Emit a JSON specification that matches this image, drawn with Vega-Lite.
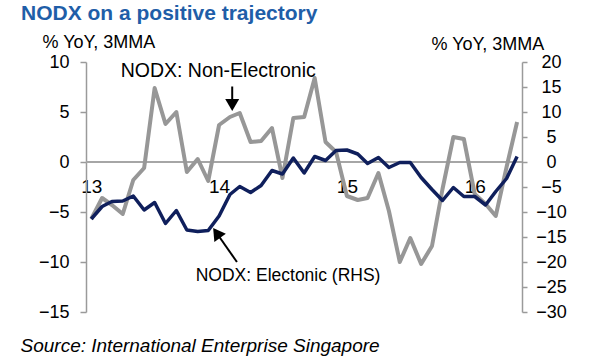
{
  "$schema": "https://vega.github.io/schema/vega-lite/v6.json",
  "width": 436,
  "height": 250,
  "autosize": {"type": "none"},
  "padding": {"left": 86, "top": 62, "right": 78, "bottom": 48},
  "background": "white",
  "title": {
    "text": "NODX on a positive trajectory",
    "anchor": "start",
    "frame": "group",
    "font": "Liberation Sans",
    "fontSize": 21,
    "fontWeight": "bold",
    "color": "#1f5ea8",
    "dx": -65,
    "dy": -2,
    "offset": 8
  },
  "config": {
    "font": "Liberation Sans",
    "view": {"stroke": null},
    "axis": {"labelColor": "#000000", "titleColor": "#000000", "grid": false, "labelFont": "Liberation Sans", "titleFont": "Liberation Sans"}
  },
  "data": {
    "values": [
      {"month": "2013-01-01T00:00:00", "nonElectronic": -5.7, "electronic": -11.4},
      {"month": "2013-02-01T00:00:00", "nonElectronic": -3.6, "electronic": -8.9},
      {"month": "2013-03-01T00:00:00", "nonElectronic": -4.3, "electronic": -7.9},
      {"month": "2013-04-01T00:00:00", "nonElectronic": -5.2, "electronic": -7.8},
      {"month": "2013-05-01T00:00:00", "nonElectronic": -1.8, "electronic": -6.8},
      {"month": "2013-06-01T00:00:00", "nonElectronic": -0.6, "electronic": -9.6},
      {"month": "2013-07-01T00:00:00", "nonElectronic": 7.4, "electronic": -8.1},
      {"month": "2013-08-01T00:00:00", "nonElectronic": 3.8, "electronic": -12.3},
      {"month": "2013-09-01T00:00:00", "nonElectronic": 5.0, "electronic": -9.7},
      {"month": "2013-10-01T00:00:00", "nonElectronic": -1.0, "electronic": -13.6},
      {"month": "2013-11-01T00:00:00", "nonElectronic": 0.3, "electronic": -13.9},
      {"month": "2013-12-01T00:00:00", "nonElectronic": -1.9, "electronic": -13.7},
      {"month": "2014-01-01T00:00:00", "nonElectronic": 3.7, "electronic": -10.8},
      {"month": "2014-02-01T00:00:00", "nonElectronic": 4.5, "electronic": -6.5},
      {"month": "2014-03-01T00:00:00", "nonElectronic": 4.9, "electronic": -4.9},
      {"month": "2014-04-01T00:00:00", "nonElectronic": 2.0, "electronic": -6.1},
      {"month": "2014-05-01T00:00:00", "nonElectronic": 2.1, "electronic": -4.7},
      {"month": "2014-06-01T00:00:00", "nonElectronic": 3.4, "electronic": -1.7},
      {"month": "2014-07-01T00:00:00", "nonElectronic": -1.6, "electronic": -2.4},
      {"month": "2014-08-01T00:00:00", "nonElectronic": 4.4, "electronic": 0.8},
      {"month": "2014-09-01T00:00:00", "nonElectronic": 4.5, "electronic": -2.2},
      {"month": "2014-10-01T00:00:00", "nonElectronic": 8.4, "electronic": 1.1},
      {"month": "2014-11-01T00:00:00", "nonElectronic": 2.0, "electronic": 0.3},
      {"month": "2014-12-01T00:00:00", "nonElectronic": 1.0, "electronic": 2.3},
      {"month": "2015-01-01T00:00:00", "nonElectronic": -3.4, "electronic": 2.4},
      {"month": "2015-02-01T00:00:00", "nonElectronic": -3.8, "electronic": 1.6},
      {"month": "2015-03-01T00:00:00", "nonElectronic": -3.6, "electronic": -0.3},
      {"month": "2015-04-01T00:00:00", "nonElectronic": -1.1, "electronic": 0.9},
      {"month": "2015-05-01T00:00:00", "nonElectronic": -4.9, "electronic": -1.1},
      {"month": "2015-06-01T00:00:00", "nonElectronic": -10.0, "electronic": -0.1},
      {"month": "2015-07-01T00:00:00", "nonElectronic": -7.6, "electronic": -0.1},
      {"month": "2015-08-01T00:00:00", "nonElectronic": -10.2, "electronic": -3.1},
      {"month": "2015-09-01T00:00:00", "nonElectronic": -8.4, "electronic": -5.5},
      {"month": "2015-10-01T00:00:00", "nonElectronic": -2.7, "electronic": -7.7},
      {"month": "2015-11-01T00:00:00", "nonElectronic": 2.5, "electronic": -5.1},
      {"month": "2015-12-01T00:00:00", "nonElectronic": 2.3, "electronic": -6.9},
      {"month": "2016-01-01T00:00:00", "nonElectronic": -3.2, "electronic": -6.9},
      {"month": "2016-02-01T00:00:00", "nonElectronic": -4.2, "electronic": -8.6},
      {"month": "2016-03-01T00:00:00", "nonElectronic": -5.4, "electronic": -5.9},
      {"month": "2016-04-01T00:00:00", "nonElectronic": -0.5, "electronic": -3.3},
      {"month": "2016-05-01T00:00:00", "nonElectronic": 4.0, "electronic": 1.1}
    ]
  },
  "layer": [
    {
      "mark": {"type": "rule", "color": "#a6a6a6", "strokeWidth": 1.5},
      "encoding": {
        "y": {"datum": 0, "scale": {"domain": [-15, 10]}, "axis": null}
      }
    },
    {
      "mark": {"type": "line", "color": "#979797", "strokeWidth": 4, "strokeJoin": "round"},
      "encoding": {
        "x": {
          "field": "month",
          "type": "temporal",
          "title": "Source: International Enterprise Singapore",
          "scale": {"domain": [{"year": 2012, "month": 12, "date": 17}, {"year": 2016, "month": 5, "date": 15}]},
          "axis": {
            "values": [{"year": 2013, "month": 1, "date": 1}, {"year": 2014, "month": 1, "date": 1}, {"year": 2015, "month": 1, "date": 1}, {"year": 2016, "month": 1, "date": 1}],
            "format": "%y",
            "domain": false,
            "ticks": false,
            "tickSize": 0,
            "grid": false,
            "labelPadding": -126,
            "labelBaseline": "middle",
            "labelFontSize": 19,
            "labelFlush": false,
            "labelOverlap": false,
            "titleX": -66,
            "titleY": 33,
            "titleAlign": "left",
            "titleAnchor": "start",
            "titleBaseline": "middle",
            "titleFontStyle": "italic",
            "titleFontWeight": "normal",
            "titleFontSize": 19
          }
        },
        "y": {
          "field": "nonElectronic",
          "type": "quantitative",
          "scale": {"domain": [-15, 10]},
          "axis": {
            "values": [-15, -10, -5, 0, 5, 10],
            "title": "% YoY, 3MMA",
            "titleAngle": 0,
            "titleX": -44,
            "titleY": -19.5,
            "titleAlign": "left",
            "titleBaseline": "middle",
            "titleFontSize": 18,
            "titleFontWeight": "normal",
            "domainColor": "#9a9a9a",
            "domainWidth": 1.5,
            "tickColor": "#9a9a9a",
            "tickWidth": 1.5,
            "tickSize": 6,
            "labelPadding": 11,
            "labelFontSize": 18
          }
        }
      }
    },
    {
      "mark": {"type": "line", "color": "#0f1f5c", "strokeWidth": 3.5, "strokeJoin": "round"},
      "encoding": {
        "x": {"field": "month", "type": "temporal", "title": "Source: International Enterprise Singapore", "scale": {"domain": [{"year": 2012, "month": 12, "date": 17}, {"year": 2016, "month": 5, "date": 15}]}},
        "y": {
          "field": "electronic",
          "type": "quantitative",
          "scale": {"domain": [-30, 20]},
          "axis": {
            "orient": "right",
            "values": [-30, -25, -20, -15, -10, -5, 0, 5, 10, 15, 20],
            "title": "% YoY, 3MMA",
            "titleAngle": 0,
            "titleX": -91,
            "titleY": -18,
            "titleAlign": "left",
            "titleBaseline": "middle",
            "titleFontSize": 18,
            "titleFontWeight": "normal",
            "domainColor": "#9a9a9a",
            "domainWidth": 1.5,
            "tickColor": "#9a9a9a",
            "tickWidth": 1.5,
            "tickSize": 5,
            "labelAlign": "center",
            "labelPadding": 24,
            "labelFontSize": 18
          }
        }
      }
    },
    {
      "data": {"values": [
        {"month": "2013-12-29T12:00:00", "v": 9.1, "label": "NODX: Non-Electronic"}
      ]},
      "mark": {"type": "text", "fontSize": 19.5, "align": "center", "baseline": "middle", "color": "#000000"},
      "encoding": {
        "x": {"field": "month", "type": "temporal", "title": "Source: International Enterprise Singapore", "scale": {"domain": [{"year": 2012, "month": 12, "date": 17}, {"year": 2016, "month": 5, "date": 15}]}},
        "y": {"field": "v", "type": "quantitative", "scale": {"domain": [-15, 10]}, "axis": null},
        "text": {"field": "label"}
      }
    },
    {
      "data": {"values": [
        {"month": "2014-07-17T00:00:00", "v": -11.4, "label": "NODX: Electonic (RHS)"}
      ]},
      "mark": {"type": "text", "fontSize": 17.5, "align": "center", "baseline": "middle", "color": "#000000"},
      "encoding": {
        "x": {"field": "month", "type": "temporal", "title": "Source: International Enterprise Singapore", "scale": {"domain": [{"year": 2012, "month": 12, "date": 17}, {"year": 2016, "month": 5, "date": 15}]}},
        "y": {"field": "v", "type": "quantitative", "scale": {"domain": [-15, 10]}, "axis": null},
        "text": {"field": "label"}
      }
    },
    {
      "data": {"values": [
        {"month": "2014-02-07T12:00:00", "month2": "2014-02-07T12:00:00", "v": 7.55, "v2": 5.9},
        {"month": "2014-02-21T00:00:00", "month2": "2013-12-25T00:00:00", "v": -10.0, "v2": -7.1}
      ]},
      "mark": {"type": "rule", "color": "#000000", "strokeWidth": 2},
      "encoding": {
        "x": {"field": "month", "type": "temporal", "title": "Source: International Enterprise Singapore", "scale": {"domain": [{"year": 2012, "month": 12, "date": 17}, {"year": 2016, "month": 5, "date": 15}]}},
        "x2": {"field": "month2"},
        "y": {"field": "v", "type": "quantitative", "scale": {"domain": [-15, 10]}, "axis": null},
        "y2": {"field": "v2"}
      }
    },
    {
      "data": {"values": [{"month": "2014-02-07T12:00:00", "v": 5.7}]},
      "mark": {"type": "point", "shape": "triangle-down", "size": 196, "filled": true, "color": "#000000", "opacity": 1},
      "encoding": {
        "x": {"field": "month", "type": "temporal", "title": "Source: International Enterprise Singapore", "scale": {"domain": [{"year": 2012, "month": 12, "date": 17}, {"year": 2016, "month": 5, "date": 15}]}},
        "y": {"field": "v", "type": "quantitative", "scale": {"domain": [-15, 10]}, "axis": null}
      }
    },
    {
      "data": {"values": [{"month": "2013-12-25T00:00:00", "v": -7.09}]},
      "mark": {"type": "point", "shape": "triangle-up", "size": 196, "angle": 325, "filled": true, "color": "#000000", "opacity": 1},
      "encoding": {
        "x": {"field": "month", "type": "temporal", "title": "Source: International Enterprise Singapore", "scale": {"domain": [{"year": 2012, "month": 12, "date": 17}, {"year": 2016, "month": 5, "date": 15}]}},
        "y": {"field": "v", "type": "quantitative", "scale": {"domain": [-15, 10]}, "axis": null}
      }
    }
  ],
  "resolve": {"scale": {"y": "independent"}}
}
